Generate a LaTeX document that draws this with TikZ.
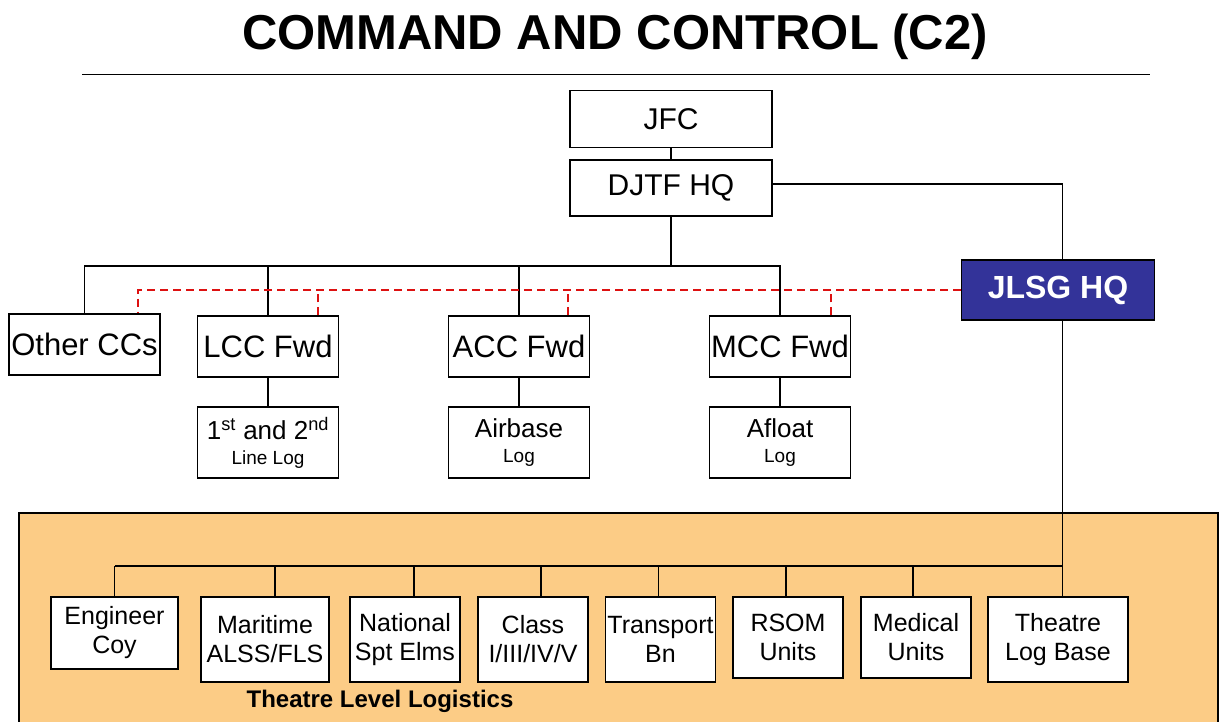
\documentclass[tikz,border=0pt]{standalone}
\usepackage{fontspec}
\setmainfont{Liberation Sans}
\usepackage{xcolor}
\usepackage{tikz}
\usetikzlibrary{positioning}

\definecolor{navyhq}{HTML}{333399}
\definecolor{theatre}{HTML}{FCCC86}
\definecolor{dashred}{HTML}{DD1111}
\newcommand{\setfs}[2]{\fontsize{#1}{#2}\selectfont}

\begin{document}
\begin{tikzpicture}[x=1pt, y=-1pt, on grid, line width=1.4pt,
    box/.style={draw, fill=white, inner sep=0pt, align=center},
    cmd/.style={box, minimum width=202pt, minimum height=56pt, font=\setfs{30}{36}},
    fwd/.style={box, minimum width=141pt, minimum height=61pt, font=\setfs{31}{36}},
    sub/.style={box, minimum width=141pt, minimum height=71pt, font=\setfs{26}{25}},
    unit/.style={box, minimum width=110pt, minimum height=85pt, font=\setfs{25}{29}},
    hq/.style={box, fill=navyhq, text=white, minimum width=193pt, minimum height=60pt,
        font=\bfseries\setfs{32}{36}},
    cclink/.style={draw=dashred, line width=2pt, dash pattern=on 8pt off 5pt}]
    \useasboundingbox (0,0) rectangle (1221,722);

    % title
    \node[font=\bfseries\setfs{49}{56}, anchor=base] (title) at (615,50) {COMMAND AND CONTROL (C2)};
    \draw (82,74.5) -- (1150,74.5);

    % theatre level area
    \fill[theatre] (19,513) rectangle (1218,722);
    \draw (19,722) -- (19,513) -- (1218,513) -- (1218,722);

    \node[cmd, minimum height=57pt] (jfc) at (671,119) {JFC};
    \node[cmd, below=69pt of jfc] (djtf) {DJTF HQ};

    \node[fwd, minimum width=151pt] (occ) at (84.5,344.5) {Other CCs};
    \node[fwd] (lcc) at (268,346.5) {LCC Fwd};
    \node[fwd, right=251pt of lcc] (acc) {ACC Fwd};
    \node[fwd, right=261pt of acc] (mcc) {MCC Fwd};

    \node[sub, below=96pt of lcc] (lcc-log) {1\textsuperscript{st} and 2\textsuperscript{nd}\\{\setfs{19}{25}Line Log}};
    \node[sub, below=96pt of acc] (acc-log) {Airbase\\{\setfs{19}{25}Log}};
    \node[sub, below=96pt of mcc] (mcc-log) {Afloat\\{\setfs{19}{25}Log}};

    \node[hq] (jlsg) at (1058,290) {JLSG HQ};

    \node[unit, minimum width=127pt, minimum height=72pt] (eng) at (114.5,633) {Engineer\\Coy};
    \node[unit, minimum width=128pt] (mar) at (265,639.5) {Maritime\\ALSS/FLS};
    \node[unit, right=140pt of mar] (nat) {National\\Spt Elms};
    \node[unit, right=128pt of nat] (cls) {Class\\I/III/IV/V};
    \node[unit, right=127.5pt of cls] (trn) {Transport\\Bn};
    \node[unit, minimum height=81pt] (rsom) at (788,637.5) {RSOM\\Units};
    \node[unit, minimum height=81pt] (med) at (916,637.5) {Medical\\Units};
    \node[unit, minimum width=140pt] (tlb) at (1058,639.5) {Theatre\\Log Base};

    \node[font=\bfseries\setfs{24}{28}, anchor=base] (tll) at (380,707) {Theatre Level Logistics};

    % command lines
    \coordinate (topbus) at (671,266);
    \coordinate (spine) at (1062.5,566);
    \draw (jfc) -- (djtf);
    \draw (djtf) -- (topbus);
    \draw (occ.north) |- (topbus) -| (mcc.north);
    \draw (lcc.north) -- (lcc.north |- topbus);
    \draw (acc.north) -- (acc.north |- topbus);
    \foreach \n in {lcc,acc,mcc}
        \draw (\n) -- (\n-log);

    \draw ([yshift=4pt]djtf.east) -| (jlsg.north -| spine);
    \draw (jlsg.south -| spine) -- (spine) -- (spine -| eng.north);
    \draw (spine) -- (spine |- tlb.north);
    \foreach \n/\dx in {eng/0,mar/10,nat/9,cls/8,trn/-2,rsom/-2,med/-3}
        \draw ([xshift=\dx pt]\n.north) -- ([xshift=\dx pt]\n.north |- spine);

    % coordination (dashed)
    \draw[cclink] (jlsg.west) -| ([xshift=53pt]occ.north);
    \foreach \n/\dx in {lcc/50,acc/49,mcc/51}
        \draw[cclink] ([xshift=\dx pt]\n.north) -- ([xshift=\dx pt]\n.north |- jlsg.west);
\end{tikzpicture}
\end{document}
